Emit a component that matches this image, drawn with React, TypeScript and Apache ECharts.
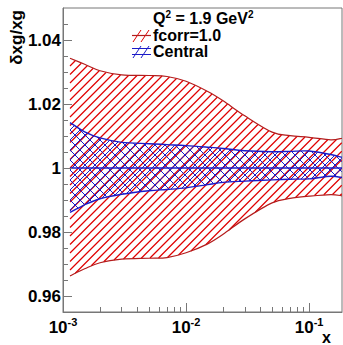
import React, { useEffect, useRef } from "react";
import * as echarts from "echarts";

const xs = [0.00114, 0.0015, 0.002, 0.003, 0.005, 0.007, 0.01, 0.015, 0.02, 0.03, 0.05, 0.07, 0.1, 0.15, 0.185];
const redHi = [1.0343, 1.0324, 1.0304, 1.0291, 1.0289, 1.0286, 1.0271, 1.0239, 1.021, 1.0163, 1.0112, 1.0101, 1.0096, 1.0088, 1.0093];
const redLo = [0.9663, 0.9685, 0.9704, 0.9715, 0.9718, 0.972, 0.9735, 0.9763, 0.9793, 0.9841, 0.9891, 0.9905, 0.9912, 0.9917, 0.9913];
const blueHi = [1.0142, 1.0113, 1.0094, 1.008, 1.0076, 1.0073, 1.007, 1.0065, 1.0061, 1.0054, 1.0051, 1.0052, 1.0053, 1.0042, 1.0033];
const blueLo = [0.9861, 0.9885, 0.9904, 0.9918, 0.9929, 0.9933, 0.9938, 0.9948, 0.9955, 0.9959, 0.9963, 0.9965, 0.9966, 0.9974, 0.997];
const central = [1, 1, 1, 1, 1, 1, 1, 1, 1, 1, 1, 1, 1, 1, 1];

const xMajor = [0.001, 0.01, 0.1];
const xMinor = [0.002, 0.003, 0.004, 0.005, 0.006, 0.007, 0.008, 0.009, 0.02, 0.03, 0.04, 0.05, 0.06, 0.07, 0.08, 0.09];
const yMajor = [0.96, 0.98, 1.0, 1.02, 1.04];
const yMinor = [0.955, 0.965, 0.97, 0.975, 0.985, 0.99, 0.995, 1.005, 1.01, 1.015, 1.025, 1.03, 1.035, 1.045];

const X_MIN = 0.001;
const X_MAX = 0.185;
const Y_MIN = 0.955;
const Y_MAX = 1.05;

const RED = "#b41c1c";
const RED_HATCH = "#e00000";
const BLUE = "#1a1ac8";
const FRAME = "#777";
const FONT = "'Liberation Sans', Arial, Helvetica, sans-serif";

type P = number[];

function bez(pts: P[]) {
  const out: P[][] = [];
  const n = pts.length;
  for (let i = 0; i < n - 1; i++) {
    const p0 = pts[Math.max(0, i - 1)];
    const p1 = pts[i];
    const p2 = pts[i + 1];
    const p3 = pts[Math.min(n - 1, i + 2)];
    out.push([
      p1,
      [p1[0] + (p2[0] - p0[0]) / 6, p1[1] + (p2[1] - p0[1]) / 6],
      [p2[0] - (p3[0] - p1[0]) / 6, p2[1] - (p3[1] - p1[1]) / 6],
      p2,
    ]);
  }
  return out;
}

function curvePath(pts: P[]): string {
  const segs = bez(pts);
  let d = `M${pts[0][0]},${pts[0][1]}`;
  for (const s of segs) d += ` C${s[1][0]},${s[1][1]} ${s[2][0]},${s[2][1]} ${s[3][0]},${s[3][1]}`;
  return d;
}

function sampleCurve(pts: P[]): P[] {
  const res: P[] = [pts[0]];
  for (const s of bez(pts)) {
    for (let k = 1; k <= 16; k++) {
      const t = k / 16;
      const a = (1 - t) * (1 - t) * (1 - t);
      const b = 3 * (1 - t) * (1 - t) * t;
      const c = 3 * (1 - t) * t * t;
      const e = t * t * t;
      res.push([
        a * s[0][0] + b * s[1][0] + c * s[2][0] + e * s[3][0],
        a * s[0][1] + b * s[1][1] + c * s[2][1] + e * s[3][1],
      ]);
    }
  }
  return res;
}

function yAt(poly: P[], x: number): number {
  if (x <= poly[0][0]) return poly[0][1];
  for (let i = 0; i < poly.length - 1; i++) {
    const a = poly[i];
    const b = poly[i + 1];
    if (x >= a[0] && x <= b[0]) {
      const w = b[0] - a[0];
      return w > 0 ? a[1] + ((x - a[0]) / w) * (b[1] - a[1]) : a[1];
    }
  }
  return poly[poly.length - 1][1];
}

function bandHatch(up: P[], dn: P[], step: number, both: boolean): string {
  const su = sampleCurve(up);
  const sd = sampleCurve(dn);
  const xa = up[0][0];
  const xb = up[up.length - 1][0];
  const dx = 0.25;
  const cols: number[][] = [];
  for (let x = xa; x <= xb + 1e-9; x += dx) cols.push([x, yAt(su, x), yAt(sd, x)]);
  const ys = su.concat(sd).map((p) => p[1]);
  const ymin = Math.min(...ys);
  const ymax = Math.max(...ys);
  let d = "";
  const run = (f: (x: number) => number) => {
    let start: number | null = null;
    let last = 0;
    for (const [x, yu, yd] of cols) {
      const y = f(x);
      const inside = y >= yu && y <= yd;
      if (inside && start === null) start = x;
      if (!inside && start !== null) {
        d += `M${start},${f(start)}L${last},${f(last)}`;
        start = null;
      }
      last = x;
    }
    if (start !== null) d += `M${start},${f(start)}L${last},${f(last)}`;
  };
  for (let c = Math.floor((xa + ymin) / step) * step; c <= xb + ymax; c += step) run((x) => c - x);
  if (both) for (let k = Math.floor((ymin - xb) / step) * step; k <= ymax - xa; k += step) run((x) => x + k);
  return d;
}

function bandSeries(hi: number[], lo: number[], color: string, hatchColor: string, step: number, both: boolean, hatchW: number, lw: number, z: number) {
  return {
    type: "custom",
    coordinateSystem: "cartesian2d",
    data: [[xs[0], 1]],
    z,
    silent: true,
    renderItem: (_params: any, api: any) => {
      const up = xs.map((x, i) => api.coord([x, hi[i]]));
      const dn = xs.map((x, i) => api.coord([x, lo[i]]));
      return {
        type: "group",
        children: [
          { type: "path", shape: { pathData: bandHatch(up, dn, step, both) }, style: { fill: "none", stroke: hatchColor, lineWidth: hatchW } },
          { type: "path", shape: { pathData: curvePath(up) }, style: { fill: "none", stroke: color, lineWidth: lw } },
          { type: "path", shape: { pathData: curvePath(dn) }, style: { fill: "none", stroke: color, lineWidth: lw } },
        ],
      };
    },
  };
}

export default function App() {
  const ref = useRef<HTMLDivElement>(null);
  useEffect(() => {
    if (!ref.current) return;
    const chart = echarts.init(ref.current, null, { renderer: "svg" });
    const pairs = (ys: number[]) => xs.map((x, i) => [x, ys[i]]);

    const axisCommonX = {
      type: "log",
      logBase: 10,
      min: X_MIN,
      max: X_MAX,
      position: "bottom",
      splitLine: { show: false },
      minorTick: { show: false },
    };
    const axisCommonY = {
      type: "value",
      min: Y_MIN,
      max: Y_MAX,
      position: "left",
      splitLine: { show: false },
      minorTick: { show: false },
    };

    const legendLine = (pts: number[][], stroke: string, lw: number) => ({
      type: "polyline",
      shape: { points: pts },
      style: { stroke, lineWidth: lw, fill: "none" },
    });

    const option: any = {
      animation: false,
      grid: { left: 63, top: 8, right: 1, bottom: 33, show: true, borderColor: FRAME, borderWidth: 1 },
      xAxis: [
        {
          ...axisCommonX,
          z: 10,
          axisLine: { show: true, lineStyle: { color: FRAME, width: 1 } },
          axisTick: { show: true, inside: true, length: 9, lineStyle: { color: FRAME }, customValues: xMajor },
          axisLabel: {
            customValues: xMajor,
            margin: 4,
            formatter: (v: number) => `{b|10}{s|${Math.round(Math.log10(v))}}`,
            rich: {
              b: { fontSize: 17, fontWeight: "bold", fontFamily: FONT, color: "#000", lineHeight: 22 },
              s: { fontSize: 11, fontWeight: "bold", fontFamily: FONT, color: "#000", lineHeight: 12, verticalAlign: "top" },
            },
          },
        },
        {
          ...axisCommonX,
          z: 10,
          axisLine: { show: false },
          axisTick: { show: true, inside: true, length: 5, lineStyle: { color: FRAME }, customValues: xMinor },
          axisLabel: { show: false },
        },
      ],
      yAxis: [
        {
          ...axisCommonY,
          z: 10,
          axisLine: { show: true, lineStyle: { color: FRAME, width: 1 } },
          axisTick: { show: true, inside: true, length: 9, lineStyle: { color: FRAME }, customValues: yMajor },
          axisLabel: {
            customValues: yMajor,
            margin: 2,
            fontSize: 17,
            fontWeight: "bold",
            fontFamily: FONT,
            color: "#000",
            formatter: (v: number) => String(parseFloat(v.toFixed(3))),
          },
        },
        {
          ...axisCommonY,
          z: 10,
          axisLine: { show: false },
          axisTick: { show: true, inside: true, length: 5, lineStyle: { color: FRAME }, customValues: yMinor },
          axisLabel: { show: false },
        },
      ],
      series: [
        bandSeries(redHi, redLo, RED, RED_HATCH, 8.5, false, 1.2, 1.2, 2),
        bandSeries(blueHi, blueLo, BLUE, BLUE, 10, true, 1, 1.4, 3),
        {
          type: "line",
          name: "centralLine",
          data: pairs(central),
          symbol: "none",
          lineStyle: { color: BLUE, width: 1.5 },
          z: 4,
        },
      ],
      graphic: [
        {
          type: "text",
          x: 16,
          y: 10,
          rotation: Math.PI / 2,
          style: { text: "δxg/xg", textAlign: "right", textVerticalAlign: "middle", font: `bold 17px ${FONT}`, fill: "#000" },
        },
        {
          type: "text",
          x: 331,
          y: 345,
          style: { text: "x", textAlign: "right", textVerticalAlign: "bottom", font: `bold 16px ${FONT}`, fill: "#000" },
        },
        {
          type: "text",
          x: 153,
          y: 18,
          style: {
            text: "{b|Q}{s|2}{b| = 1.9 GeV}{s|2}",
            textAlign: "left",
            textVerticalAlign: "middle",
            rich: {
              b: { fontSize: 16, fontWeight: "bold", fontFamily: FONT, fill: "#000", lineHeight: 18 },
              s: { fontSize: 10, fontWeight: "bold", fontFamily: FONT, fill: "#000", lineHeight: 10, verticalAlign: "top" },
            },
          },
        },
        {
          type: "text",
          x: 153,
          y: 35,
          style: { text: "fcorr=1.0", textAlign: "left", textVerticalAlign: "middle", font: `bold 16px ${FONT}`, fill: "#000" },
        },
        {
          type: "text",
          x: 153,
          y: 51,
          style: { text: "Central", textAlign: "left", textVerticalAlign: "middle", font: `bold 16px ${FONT}`, fill: "#000" },
        },
        {
          type: "group",
          children: [
            legendLine([[133, 42], [141, 30]], RED_HATCH, 1),
            legendLine([[141, 42], [149, 30]], RED_HATCH, 1),
            legendLine([[132, 35.5], [151, 35.5]], RED, 1.2),
            legendLine([[133, 58], [141, 46]], BLUE, 1),
            legendLine([[141, 58], [149, 46]], BLUE, 1),
            legendLine([[132, 48.5], [151, 48.5]], BLUE, 1),
            legendLine([[132, 54.5], [151, 54.5]], BLUE, 1),
          ],
        },
      ],
    };
    chart.setOption(option);
    return () => chart.dispose();
  }, []);
  return <div ref={ref} style={{ width: 343, height: 345, position: "absolute", left: 0, top: 0 }} />;
}
